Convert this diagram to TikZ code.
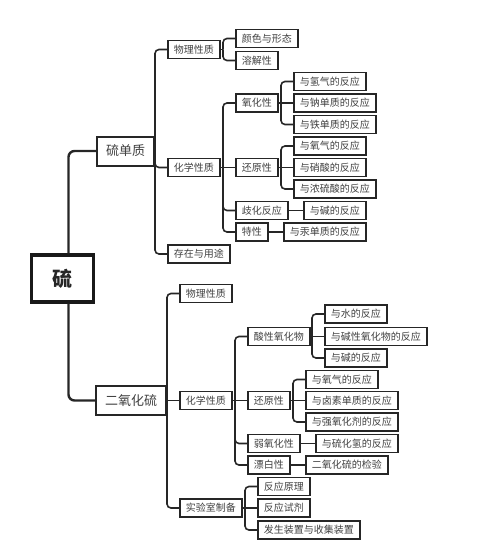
\documentclass[tikz,border=0pt]{standalone}
\usepackage{fontspec}
\setmainfont{Noto Sans CJK SC}
\usetikzlibrary{calc,positioning}

\tikzset{
  box/.style={draw=black!85, line width=1.6pt, text=black!75, font=\fontsize{10}{12}\selectfont,
    inner xsep=6pt, inner ysep=0pt, minimum height=18pt, anchor=west},
  midbox/.style={box, line width=2pt, font=\fontsize{13}{15}\selectfont, inner xsep=9pt, minimum height=29pt},
  rootbox/.style={draw=black!90, line width=3.2pt, text=black!85, font=\fontsize{20}{24}\selectfont\bfseries,
    minimum width=62pt, minimum height=47pt},
  link/.style={draw=black!85, line width=1.6pt},
}
% elbow connector: parent east -> trunk -> child west
\newcommand{\branch}[2]{%
  \draw[link] (#1.east) -- ($(#2.west |- #1.east)+(-12,0)$);
  \draw[link, rounded corners=4pt] ($(#2.west |- #1.east)+(-12,0)$) |- (#2.west);
}
% straight connector for a child level with its parent
\newcommand{\direct}[2]{\draw[link] (#1.east) -- (#2.west);}

\begin{document}
\begin{tikzpicture}[x=1pt, y=-1pt]
    \useasboundingbox (0,0) rectangle (500,555);

    % Root and first level
    \node[rootbox] (root) at (62.5,278.5) {硫};
    \node[midbox] (s) at (96,151) {硫单质};
    \node[midbox] (so) at (95,400.5) {二氧化硫};
    \draw[link, line width=2.4pt, rounded corners=6pt] ([xshift=6pt]root.north) |- (s.west);
    \draw[link, line width=2.4pt, rounded corners=6pt] ([xshift=6pt]root.south) |- (so.west);

    % 硫单质
    \node[box] (sp) at (167,49.5) {物理性质};
    \node[box] (sc) at (167,167.5) {化学性质};
    \node[box] (su) at (167,254) {存在与用途};
    \foreach \c in {sp,sc,su} {\branch{s}{\c}}

    \foreach \n/\y/\t in {sp1/38.5/颜色与形态, sp2/60.5/溶解性} {
        \node[box] (\n) at (235,\y) {\t};
        \branch{sp}{\n}
    }

    \node[box] (ox) at (235,103) {氧化性};
    \node[box] (re) at (235,167.5) {还原性};
    \node[box] (di) at (235,210.5) {歧化反应};
    \node[box] (te) at (235,232) {特性};
    \foreach \c in {ox,di,te} {\branch{sc}{\c}}
    \direct{sc}{re}

    \node[box] (ox1) at (293,81.5) {与氢气的反应};
    \node[box] (ox2) at (293,103) {与钠单质的反应};
    \node[box] (ox3) at (293,124.5) {与铁单质的反应};
    \branch{ox}{ox1} \branch{ox}{ox3} \direct{ox}{ox2}

    \node[box] (re1) at (293,146) {与氧气的反应};
    \node[box] (re2) at (293,167.5) {与硝酸的反应};
    \node[box] (re3) at (293,189) {与浓硫酸的反应};
    \branch{re}{re1} \branch{re}{re3} \direct{re}{re2}

    \node[box] (di1) at (303,210.5) {与碱的反应};
    \node[box] (te1) at (283,232) {与汞单质的反应};
    \direct{di}{di1}
    \direct{te}{te1}

    % 二氧化硫
    \node[box] (bp) at (179,293.5) {物理性质};
    \node[box] (bc) at (179,400.5) {化学性质};
    \node[box] (bl) at (179,508) {实验室制备};
    \branch{so}{bp} \branch{so}{bl} \direct{so}{bc}

    \node[box] (ac) at (247,336.5) {酸性氧化物};
    \node[box] (rd) at (247,400.5) {还原性};
    \node[box] (wk) at (247,443.5) {弱氧化性};
    \node[box] (pb) at (247,465) {漂白性};
    \foreach \c in {ac,wk,pb} {\branch{bc}{\c}}
    \direct{bc}{rd}

    \node[box] (ac1) at (324,314) {与水的反应};
    \node[box] (ac2) at (324,336.5) {与碱性氧化物的反应};
    \node[box] (ac3) at (324,358) {与碱的反应};
    \branch{ac}{ac1} \branch{ac}{ac3} \direct{ac}{ac2}

    \node[box] (rd1) at (305,379.5) {与氧气的反应};
    \node[box] (rd2) at (305,400.5) {与卤素单质的反应};
    \node[box] (rd3) at (305,422) {与强氧化剂的反应};
    \branch{rd}{rd1} \branch{rd}{rd3} \direct{rd}{rd2}

    \node[box] (wk1) at (315,443.5) {与硫化氢的反应};
    \node[box] (pb1) at (305,465) {二氧化硫的检验};
    \direct{wk}{wk1}
    \direct{pb}{pb1}

    \node[box] (bl1) at (257,486.5) {反应原理};
    \node[box] (bl2) at (257,508) {反应试剂};
    \node[box] (bl3) at (257,530) {发生装置与收集装置};
    \branch{bl}{bl1} \branch{bl}{bl3} \direct{bl}{bl2}
\end{tikzpicture}
\end{document}
